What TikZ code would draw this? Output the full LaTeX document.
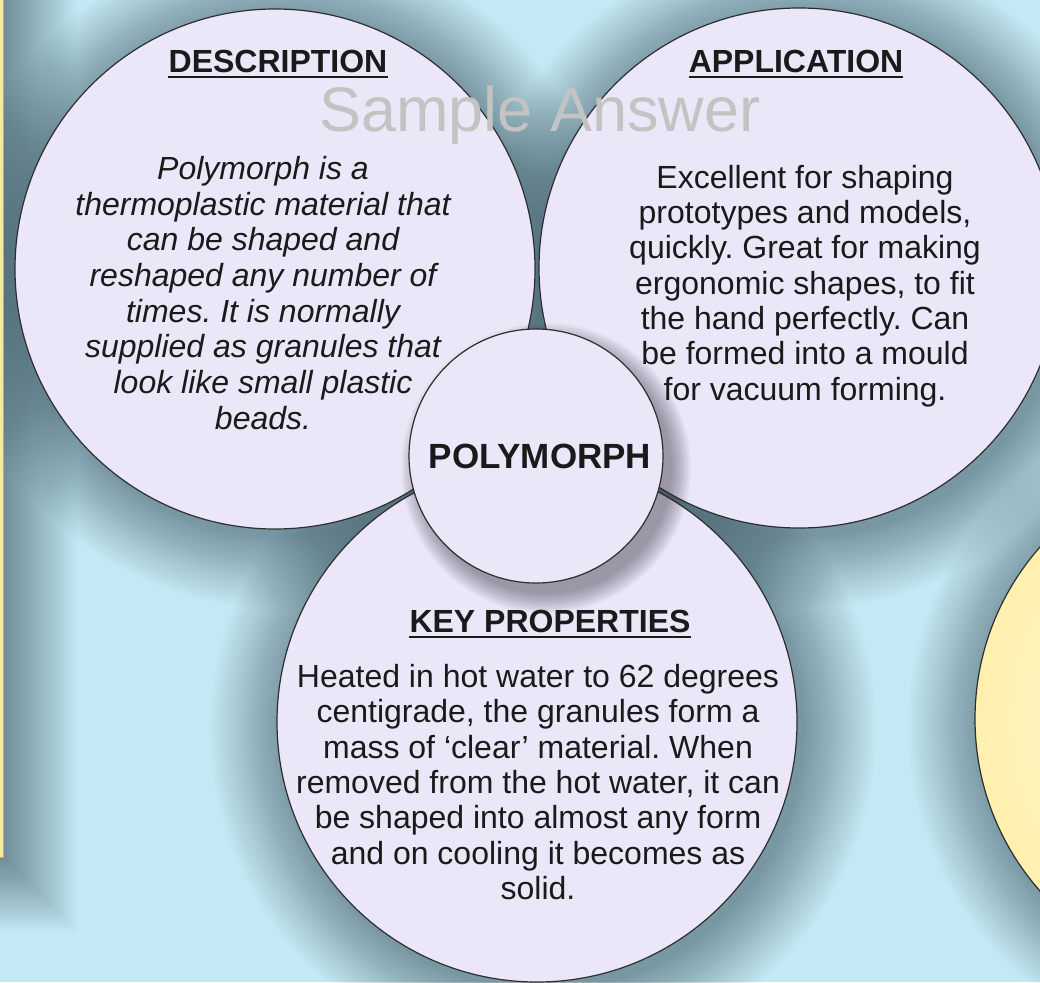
\documentclass[tikz,border=0pt]{standalone}
\usepackage{fontspec}
\setmainfont{Liberation Sans}
\usetikzlibrary{calc}
\definecolor{skyc}{HTML}{C5E9F4}
\definecolor{shadec}{HTML}{3F5A66}
\definecolor{hubshade}{HTML}{3C3A48}
\definecolor{lilac}{HTML}{EBE7F8}
\definecolor{rimc}{HTML}{2E2E2E}
\definecolor{inkc}{HTML}{1A1A1A}
\definecolor{markc}{HTML}{C3C3C3}
\definecolor{stripc}{HTML}{F2EB9B}
\definecolor{sunin}{HTML}{FFFBE6}
\definecolor{sunout}{HTML}{FFF0AE}
\frenchspacing
\tikzset{
  bubble/.style={circle,draw=rimc,line width=1.2pt,fill=lilac,minimum size=520pt,inner sep=0pt},
  sunbubble/.style={circle,draw=rimc,line width=1.2pt,inner color=sunin,outer color=sunout,minimum size=520pt,inner sep=0pt},
  hub/.style={circle,draw=rimc,line width=1.2pt,fill=lilac,minimum size=254pt,inner sep=0pt,
    font=\fontsize{35}{40}\selectfont\bfseries,text=inkc},
  headtext/.style={font=\fontsize{32}{36}\selectfont\bfseries,text=inkc,inner sep=0pt,anchor=base},
  bodytext/.style={font=\fontsize{32}{35.3}\selectfont,text=inkc,align=center,inner sep=0pt},
  uline/.style={line width=2pt,inkc},
}

\begin{document}
\begin{tikzpicture}[x=1pt,y=-1pt]
\useasboundingbox (0,0) rectangle (1040,982);
\clip (0,0) rectangle (1040,982);
\fill[skyc] (0,0) rectangle (1040,982);
\coordinate (D) at (275,269);
\coordinate (A) at (799,268);
\coordinate (K) at (537,722);
\coordinate (P) at (536,456);
\coordinate (S) at (1235,719);
% soft shadows
\foreach \k [evaluate=\k as \ee using 1.7*\k+0.025*\k*\k] in {1,...,30}
  \fill[shadec,opacity=0.028] (-100,-100) rectangle (4+\ee,858+\ee);
\foreach \ctr in {D,A,K,S}{
  \foreach \k [evaluate=\k as \rr using 259+1.7*\k+0.025*\k*\k] in {1,...,30}{
    \fill[shadec,opacity=0.024] ($(\ctr)+(6,7)$) circle[radius=\rr pt];
  }
}
\draw[stripc!75!black,fill=stripc,line width=0.8pt] (-2,-2) rectangle (3,857);
\node[bubble] (desc) at (D) {};
\node[bubble] (appl) at (A) {};
\node[bubble] (keyp) at (K) {};
\node[sunbubble] (sun) at (S) {};
\foreach \k [evaluate=\k as \rr using 124+1.5*\k] in {1,...,14}
  \fill[hubshade,opacity=0.04] ($(P)+(10,12)$) circle[radius=\rr pt];
\node[hub] (hub) at (P) {\hspace*{8pt}POLYMORPH};
\node[headtext] (hdesc) at (278,72) {DESCRIPTION};
\node[headtext] (happl) at (796,72) {APPLICATION};
\node[headtext] (hkeyp) at (550,632) {KEY PROPERTIES};
\foreach \h in {hdesc,happl,hkeyp}
  \draw[uline] ([yshift=-5pt]\h.base west) -- ([yshift=-5pt]\h.base east);
\node[bodytext,font=\fontsize{32}{35.7}\selectfont\itshape] (tdesc) at (263,293)
  {Polymorph is a\\thermoplastic material that\\can be shaped and\\reshaped any number of\\times. It is normally\\supplied as granules that\\look like small plastic\\beads.};
\node[bodytext] (tappl) at (805,286)
  {Excellent for shaping\\prototypes and models,\\quickly. Great for making\\ergonomic shapes, to fit\\the hand perfectly. Can\\be formed into a mould\\for vacuum forming.};
\node[bodytext] (tkeyp) at (538,782)
  {Heated in hot water to 62 degrees\\centigrade, the granules form a\\mass of ‘clear’ material. When\\removed from the hot water, it can\\be shaped into almost any form\\and on cooling it becomes as\\solid.};
\node[font=\fontsize{63}{70}\selectfont,text=markc,inner sep=0pt,anchor=base] (mark) at (540,131) {Sample Answer};
\end{tikzpicture}
\end{document}
